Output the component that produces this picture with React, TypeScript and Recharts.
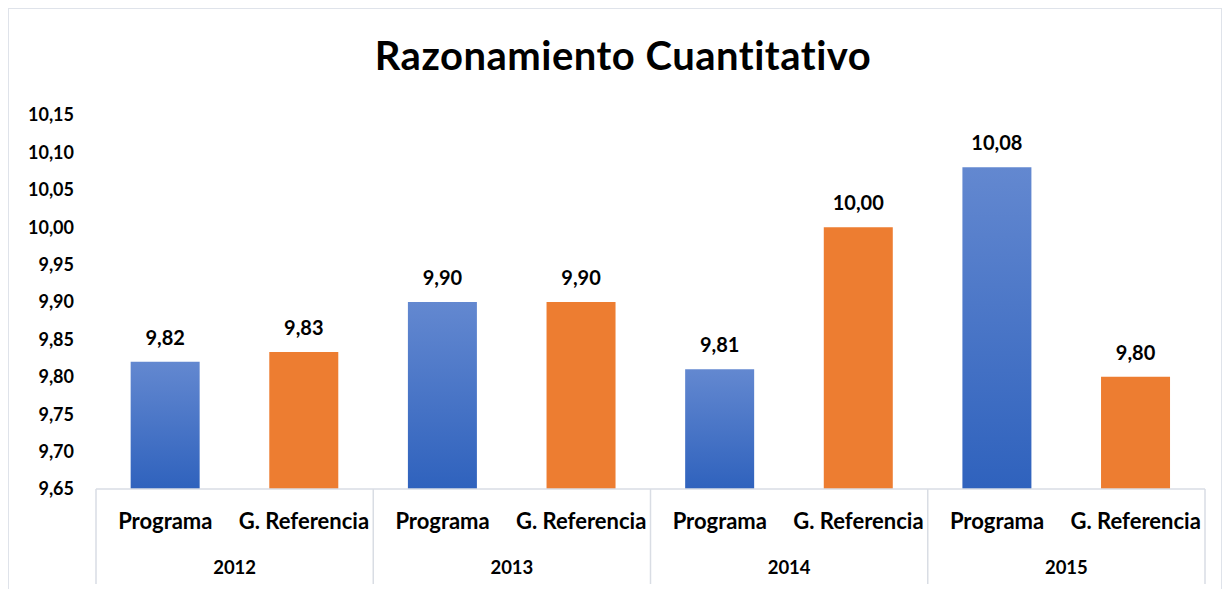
import React from "react"
import { BarChart, Bar, XAxis, YAxis, Cell, LabelList } from "recharts"

const years = ["2012", "2013", "2014", "2015"]
const seriesNames = ["Programa", "G. Referencia"]
const programa = [9.82, 9.9, 9.81, 10.08]
const referencia = [9.833, 9.9, 10.0, 9.8]
const yTicks = [9.65, 9.7, 9.75, 9.8, 9.85, 9.9, 9.95, 10.0, 10.05, 10.1, 10.15]

const rows = years.flatMap((year, i) => [
  { key: `${year}-p`, year, series: seriesNames[0], value: programa[i] },
  { key: `${year}-r`, year, series: seriesNames[1], value: referencia[i] },
])

const FONT = "Lato, 'Open Sans', sans-serif"
const CHART_W = 1212
const CHART_H = 580
const MARGIN = { top: 106, right: 16, left: 0, bottom: 0 }
const Y_W = 87
const BAND = (CHART_W - MARGIN.left - MARGIN.right - Y_W) / rows.length

const fmt = (v: number) => v.toFixed(2).replace(".", ",")

function XTick(props: any) {
  const { x, y, index } = props
  const row = rows[index]
  const axisY = y - 8
  return (
    <g fontFamily={FONT} fontWeight={700} fill="#000">
      <text x={x} y={axisY + 31} textAnchor="middle" dominantBaseline="central" fontSize={22}>
        {row.series}
      </text>
      {index % 2 === 1 && (
        <text x={x - BAND / 2} y={axisY + 78} textAnchor="middle" dominantBaseline="central" fontSize={18.5}>
          {row.year}
        </text>
      )}
      {index % 2 === 0 && (
        <line x1={x - BAND / 2} x2={x - BAND / 2} y1={axisY} y2={axisY + 95} stroke="#d9dde4" strokeWidth={1.5} />
      )}
      {index === rows.length - 1 && (
        <line x1={x + BAND / 2} x2={x + BAND / 2} y1={axisY} y2={axisY + 95} stroke="#d9dde4" strokeWidth={1.5} />
      )}
    </g>
  )
}

export default function App() {
  return (
    <div style={{ width: CHART_W, height: 590, border: "1px solid #dfe3ea", position: "relative", background: "#fff" }}>
      <div
        style={{
          position: "absolute",
          top: 22,
          left: 8,
          width: "100%",
          textAlign: "center",
          fontFamily: FONT,
          fontWeight: 700,
          fontSize: 40,
          letterSpacing: 0.5,
          color: "#000",
        }}
      >
        Razonamiento Cuantitativo
      </div>
      <BarChart width={CHART_W} height={CHART_H} data={rows} margin={MARGIN} barCategoryGap="25%">
        <defs>
          <linearGradient id="blueGrad" x1="0" y1="0" x2="0" y2="1">
            <stop offset="0%" stopColor="#6388d0" />
            <stop offset="100%" stopColor="#2f62bd" />
          </linearGradient>
        </defs>
        <XAxis
          dataKey="key"
          interval={0}
          height={100}
          tickLine={false}
          axisLine={{ stroke: "#d9dde4", strokeWidth: 1.5 }}
          tick={<XTick />}
        />
        <YAxis
          width={Y_W}
          domain={[9.65, 10.15]}
          ticks={yTicks}
          interval={0}
          axisLine={false}
          tickLine={false}
          tickFormatter={fmt}
          tick={{ fontFamily: FONT, fontWeight: 700, fontSize: 18, fill: "#000", dx: -14 }}
        />
        <Bar dataKey="value" isAnimationActive={false}>
          {rows.map((r) => (
            <Cell key={r.key} fill={r.series === seriesNames[0] ? "url(#blueGrad)" : "#ED7D31"} />
          ))}
          <LabelList
            dataKey="value"
            position="top"
            offset={17}
            formatter={(v: any) => fmt(Number(v))}
            style={{ fontFamily: FONT, fontWeight: 700, fontSize: 20, fill: "#000" }}
          />
        </Bar>
      </BarChart>
    </div>
  )
}
